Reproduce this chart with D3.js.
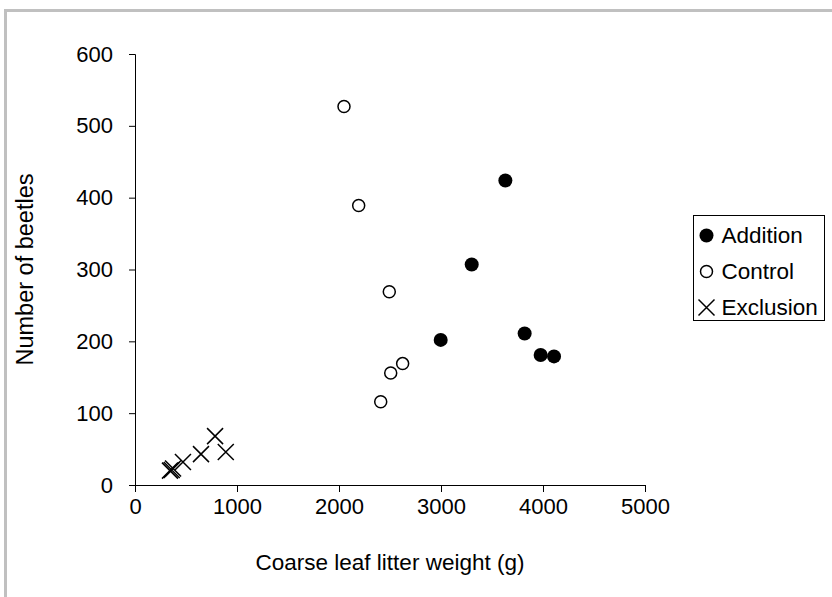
<!DOCTYPE html>
<html>
<head>
<meta charset="utf-8">
<script src="https://cdn.jsdelivr.net/npm/d3@7"></script>
<style>
  body { margin: 0; background: #fff; }
  svg text { font-family: "Liberation Sans", Arial, sans-serif; fill: #000; }
</style>
</head>
<body>
<div id="chart"></div>
<script>
'use strict';

// data
const additionX = [3631, 3301, 2997, 3820, 3977, 4108];
const additionY = [424, 307, 202, 211, 181, 179];
const controlX = [2049, 2193, 2493, 2624, 2507, 2409];
const controlY = [527, 389, 269, 169, 156, 116];
const exclusionX = [343, 360, 373, 470, 647, 785, 890];
const exclusionY = [20, 21, 23, 32, 43, 68, 46];

const xTicks = [0, 1000, 2000, 3000, 4000, 5000];
const yTicks = [0, 100, 200, 300, 400, 500, 600];
const legendLabels = ['Addition', 'Control', 'Exclusion'];

const WIDTH = 832, HEIGHT = 597;
const margin = {top: 54, left: 135, right: 187, bottom: 112};

let svg = d3.select('#chart').append('svg')
    .attr('width', WIDTH)
    .attr('height', HEIGHT);

// gray outer frame (top and left only visible)
svg.append('path')
    .attr('d', 'M5.5,' + HEIGHT + 'V10.5H' + WIDTH)
    .attr('fill', 'none')
    .attr('stroke', '#c0c0c0')
    .attr('stroke-width', 3);

let x = d3.scaleLinear().domain([0, 5000]).range([margin.left, WIDTH - margin.right]);
let y = d3.scaleLinear().domain([0, 600]).range([HEIGHT - margin.bottom, margin.top]);

// axes
let xAxis = svg.append('g')
    .attr('transform', 'translate(0,' + (HEIGHT - margin.bottom) + ')')
    .call(d3.axisBottom(x).tickValues(xTicks).tickSize(7).tickPadding(6).tickFormat(d3.format('d')));
let yAxis = svg.append('g')
    .attr('transform', 'translate(' + margin.left + ',0)')
    .call(d3.axisLeft(y).tickValues(yTicks).tickSize(6).tickPadding(16).tickFormat(d3.format('d')));

[xAxis, yAxis].forEach(function(a) {
    a.attr('font-family', null).attr('font-size', null);
    a.selectAll('path, line').attr('stroke', '#000').attr('stroke-width', 1);
    a.selectAll('text').style('font-size', '22px');
});

// axis titles
svg.append('text')
    .attr('x', (x(0) + x(5000)) / 2)
    .attr('y', 570)
    .attr('text-anchor', 'middle')
    .style('font-size', '22.5px')
    .text('Coarse leaf litter weight (g)');

svg.append('text')
    .attr('transform', 'translate(33,' + ((y(0) + y(600)) / 2) + ') rotate(-90)')
    .attr('text-anchor', 'middle')
    .style('font-size', '23.5px')
    .text('Number of beetles');

// markers
function crossPath(s) {
    return 'M' + (-s) + ',' + (-s) + 'L' + s + ',' + s + 'M' + (-s) + ',' + s + 'L' + s + ',' + (-s);
}

let plot = svg.append('g');

plot.selectAll('.exclusion')
    .data(d3.zip(exclusionX, exclusionY))
    .enter().append('path')
    .attr('class', 'exclusion')
    .attr('transform', function(d) { return 'translate(' + x(d[0]) + ',' + y(d[1]) + ')'; })
    .attr('d', crossPath(8))
    .attr('stroke', '#000')
    .attr('stroke-width', 1.5);

plot.selectAll('.control')
    .data(d3.zip(controlX, controlY))
    .enter().append('circle')
    .attr('class', 'control')
    .attr('cx', function(d) { return x(d[0]); })
    .attr('cy', function(d) { return y(d[1]); })
    .attr('r', 6)
    .attr('fill', '#fff')
    .attr('stroke', '#000')
    .attr('stroke-width', 1.5);

plot.selectAll('.addition')
    .data(d3.zip(additionX, additionY))
    .enter().append('circle')
    .attr('class', 'addition')
    .attr('cx', function(d) { return x(d[0]); })
    .attr('cy', function(d) { return y(d[1]); })
    .attr('r', 7)
    .attr('fill', '#000');

// legend
let legend = svg.append('g').attr('transform', 'translate(693.5,215.5)');
legend.append('rect')
    .attr('width', 131)
    .attr('height', 105)
    .attr('fill', '#fff')
    .attr('stroke', '#000')
    .attr('stroke-width', 1);

let rows = legend.selectAll('.row')
    .data(legendLabels)
    .enter().append('g')
    .attr('class', 'row')
    .attr('transform', function(d, i) { return 'translate(0,' + (20 + i * 36) + ')'; });

rows.each(function(d, i) {
    let g = d3.select(this);
    if (i === 0) {
        g.append('circle').attr('cx', 13).attr('r', 7).attr('fill', '#000');
    } else if (i === 1) {
        g.append('circle').attr('cx', 13).attr('r', 6)
            .attr('fill', '#fff').attr('stroke', '#000').attr('stroke-width', 1.5);
    } else {
        g.append('path').attr('transform', 'translate(13,0)')
            .attr('d', crossPath(8)).attr('stroke', '#000').attr('stroke-width', 1.5);
    }
    g.append('text')
        .attr('x', 28)
        .attr('dy', '0.35em')
        .style('font-size', '22.5px')
        .text(d);
});
</script>
</body>
</html>
